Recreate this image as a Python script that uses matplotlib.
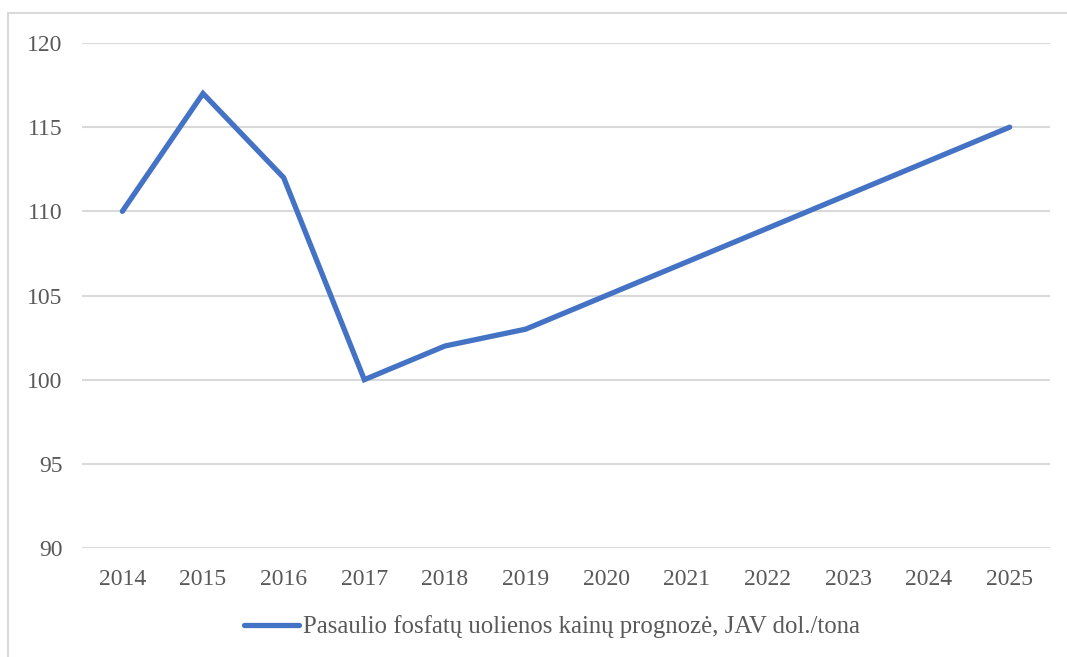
import matplotlib.pyplot as plt
from matplotlib.patches import Rectangle

years = ["2014", "2015", "2016", "2017", "2018", "2019",
         "2020", "2021", "2022", "2023", "2024", "2025"]
prices = [110, 117, 112, 100, 102, 103, 105, 107, 109, 111, 113, 115]
series_label = "Pasaulio fosfatų uolienos kainų prognozė, JAV dol./tona"
y_ticks = [90, 95, 100, 105, 110, 115, 120]

plt.rcParams['font.family'] = ['Liberation Serif', 'DejaVu Serif']

fig = plt.figure(figsize=(10.67, 6.57), dpi=100)
ax = fig.add_axes([82/1067, 1 - 548/657, (1050 - 82)/1067, (548 - 43)/657])

# chart border like excel (right and bottom edges fall outside the picture)
fig.patches.append(Rectangle((8/1067, -1), 3, 2 - 13/657,
                             transform=fig.transFigure, fill=False,
                             edgecolor="#D9D9D9", linewidth=1.5))

x = list(range(len(years)))
line, = ax.plot(x, prices, color="#4472C4", linewidth=3.8,
                solid_capstyle="round", solid_joinstyle="miter",
                label=series_label)

ax.set_xlim(-0.5, len(years) - 0.5)
ax.set_ylim(90, 120)
ax.set_yticks(y_ticks)
ax.set_xticks(x)
ax.set_xticklabels(years)
ax.yaxis.grid(True, color="#D9D9D9", linewidth=1.5)
ax.set_axisbelow(True)
for s in ax.spines.values():
    s.set_visible(False)
ax.tick_params(axis="both", length=0, labelsize=17, colors="#595959")
ax.tick_params(axis="y", pad=14)
ax.tick_params(axis="x", pad=15)

fig.legend(handles=[line], loc="center", bbox_to_anchor=(552/1067, 1 - 627/657),
           frameon=False, fontsize=17.8, handlelength=2.2, handletextpad=0.15,
           labelcolor="#595959")

fig.savefig("out.png", dpi=100)
